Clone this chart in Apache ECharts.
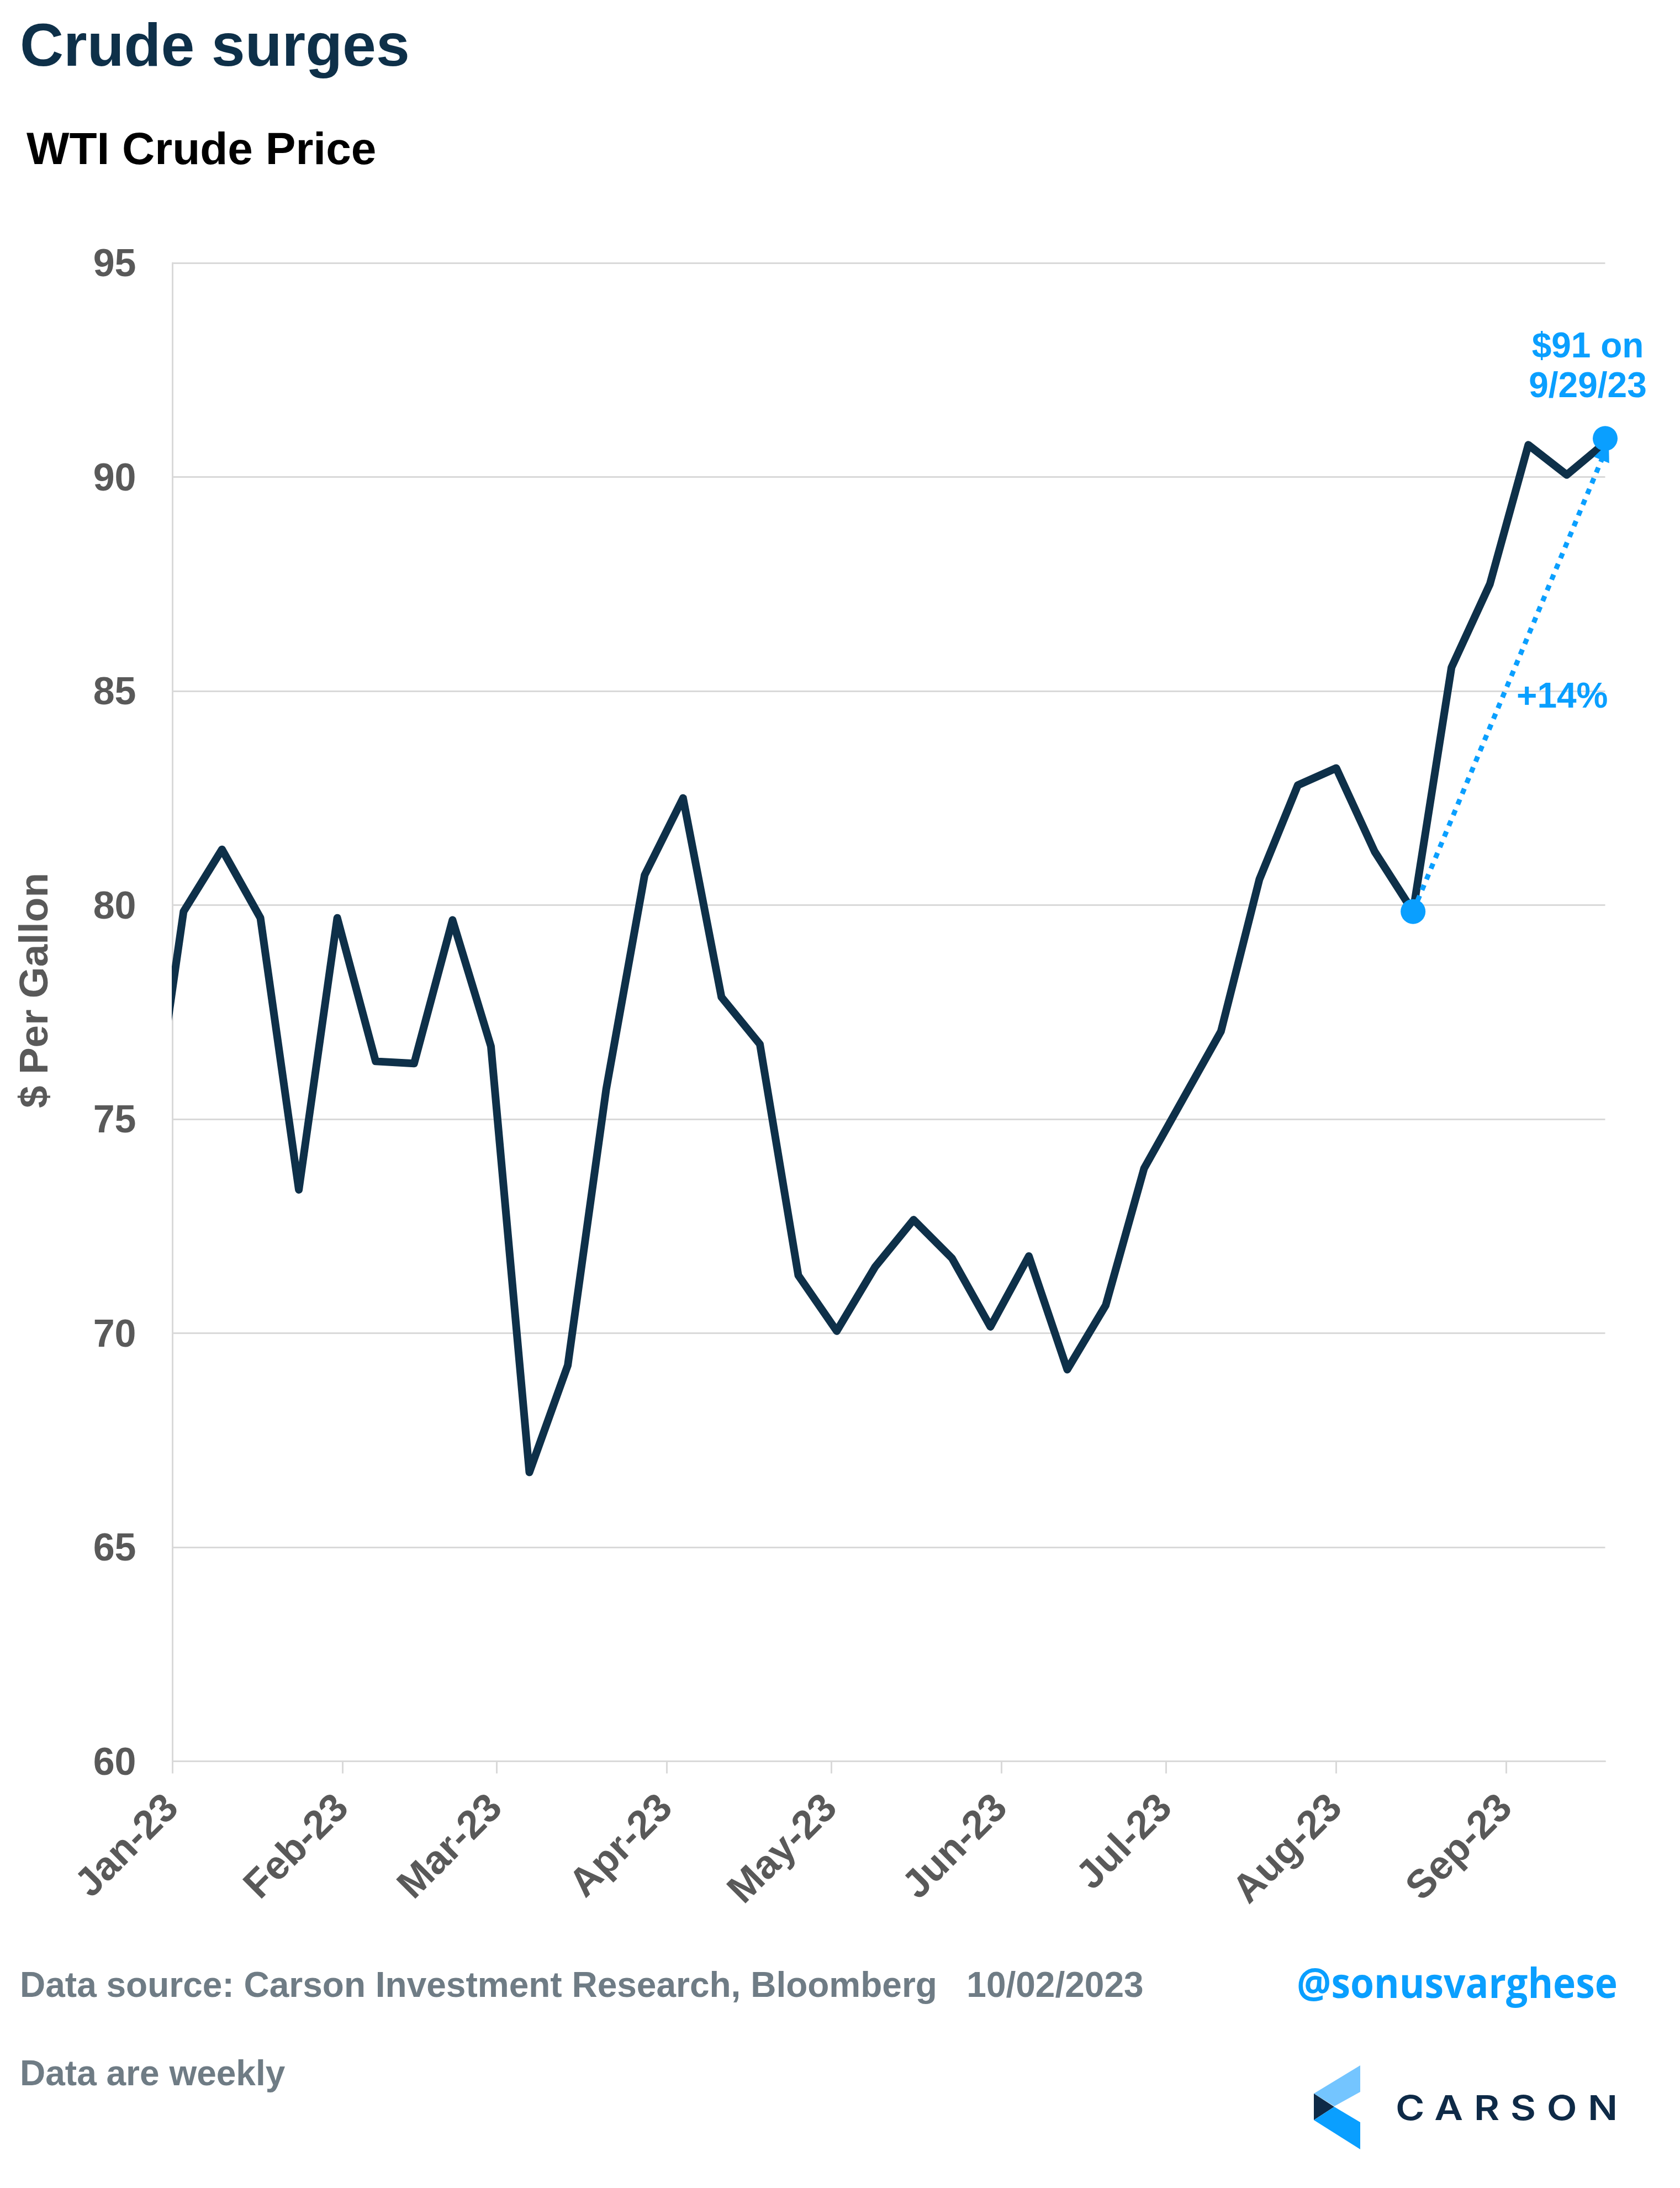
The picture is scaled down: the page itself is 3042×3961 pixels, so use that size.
<!DOCTYPE html>
<html><head><meta charset="utf-8">
<style>html,body{margin:0;padding:0;background:#fff}#c{width:3042px;height:3961px}</style>
<script src="https://cdn.jsdelivr.net/npm/echarts@6/dist/echarts.min.js"></script>
</head><body><div id="c"></div>
<script>
const weekDates = ['2022-12-27','2023-01-03','2023-01-10','2023-01-17','2023-01-24','2023-01-31','2023-02-07','2023-02-14','2023-02-21','2023-02-28','2023-03-07','2023-03-14','2023-03-21','2023-03-28','2023-04-04','2023-04-11','2023-04-18','2023-04-25','2023-05-02','2023-05-09','2023-05-16','2023-05-23','2023-05-30','2023-06-06','2023-06-13','2023-06-20','2023-06-27','2023-07-04','2023-07-11','2023-07-18','2023-07-25','2023-08-01','2023-08-08','2023-08-15','2023-08-22','2023-08-29','2023-09-05','2023-09-12','2023-09-19'];
const wtiPrice = [73.6,79.85,81.3,79.7,73.35,79.7,76.35,76.3,79.65,76.7,66.75,69.25,75.7,80.7,82.5,77.85,76.75,71.35,70.05,71.55,72.65,71.75,70.15,71.8,69.15,70.65,73.85,75.45,77.05,80.6,82.8,83.2,81.25,79.85,85.55,87.5,90.75,90.05,90.8];
const monthTicks = ['2023-01-01','2023-02-01','2023-03-01','2023-04-01','2023-05-01','2023-06-01','2023-07-01','2023-08-01','2023-09-01'];
const monthLabels = ['Jan-23','Feb-23','Mar-23','Apr-23','May-23','Jun-23','Jul-23','Aug-23','Sep-23'];
const axisStart = '2023-01-01', axisEnd = '2023-09-19';
const markerDates = ['2023-08-15','2023-09-19'];
const markerValues = [79.85,90.9];
const arrowFrom = ['2023-08-15',79.85], arrowTo = ['2023-09-19',90.6];

// the logo wordmark is letter-spaced; keep it one real text string
const _ft = CanvasRenderingContext2D.prototype.fillText;
CanvasRenderingContext2D.prototype.fillText = function(t,x,y,m){
  if(t==='CARSON'){const o=this.letterSpacing;this.letterSpacing='17px';
    const r=m===undefined?_ft.call(this,t,x,y):_ft.call(this,t,x,y,m);this.letterSpacing=o;return r;}
  return m===undefined?_ft.call(this,t,x,y):_ft.call(this,t,x,y,m);
};

const ts = d => Date.parse(d);
const tickTs = monthTicks.map(ts);
const SANS = '"Liberation Sans", Arial, sans-serif';
const NAVY='#0e3049', BLUE='#0a9fff', GRID='#d9d9d9', AXTXT='#595959', FOOT='#6f7c85';
const txt=(text,x,y,fill,size,extra={})=>({type:'text',x,y,z:20,style:Object.assign({text,fill,font:`bold ${size}px ${SANS}`,textAlign:'left',textVerticalAlign:'middle'},extra)});

const chart = echarts.init(document.getElementById('c'));
chart.setOption({
  animation:false, backgroundColor:'#fff',
  title:[
    {text:'Crude surges',left:31,top:29,textStyle:{fontFamily:SANS,fontWeight:'bold',fontSize:109.5,color:NAVY}},
    {text:'WTI Crude Price',left:43,top:228,textStyle:{fontFamily:SANS,fontWeight:'bold',fontSize:82,color:'#000'}}
  ],
  grid:{left:312.5,right:135.5,top:476,bottom:772.5,containLabel:false},
  xAxis:{type:'value',min:ts(axisStart),max:ts(axisEnd),scale:true,
    axisLine:{show:true,onZero:false,lineStyle:{color:GRID,width:3}},
    axisTick:{show:true,length:22,customValues:tickTs,lineStyle:{color:GRID,width:3}},
    splitLine:{show:false},minorTick:{show:false},
    axisLabel:{show:true,rotate:45,margin:74,customValues:tickTs,hideOverlap:false,
      formatter:v=>monthLabels[tickTs.indexOf(v)]||'',
      fontFamily:SANS,fontWeight:'bold',fontSize:72,color:AXTXT}},
  yAxis:{type:'value',min:60,max:95,interval:5,
    axisLine:{show:true,onZero:false,lineStyle:{color:GRID,width:3}},axisTick:{show:false},
    splitLine:{show:true,lineStyle:{color:GRID,width:3}},
    axisLabel:{margin:66,formatter:v=>'{a|'+v+'}',
      rich:{a:{padding:[10,0,0,0],fontFamily:SANS,fontWeight:'bold',fontSize:70,color:AXTXT}}}},
  series:[
    {name:'WTI',type:'line',data:weekDates.map((d,i)=>[ts(d),wtiPrice[i]]),showSymbol:false,symbol:'none',clip:true,
      lineStyle:{color:NAVY,width:14,join:'round',cap:'round'},z:3,
      markLine:{silent:true,animation:false,symbol:['none','triangle'],symbolSize:[30,34],label:{show:false},
        lineStyle:{color:BLUE,width:9,type:[10,11],cap:'butt',opacity:1},
        data:[[{coord:[ts(arrowFrom[0]),arrowFrom[1]]},{coord:[ts(arrowTo[0]),arrowTo[1]]}]]}},
    {name:'Markers',type:'scatter',data:markerDates.map((d,i)=>[ts(d),markerValues[i]]),symbol:'circle',symbolSize:45,clip:false,
      itemStyle:{color:BLUE,opacity:1},z:6}
  ],
  graphic:[
    {type:'rect',z:10,silent:true,shape:{x:275,y:1700,width:36,height:200},style:{fill:'#fff'}},
    {type:'text',x:66,y:1793,rotation:Math.PI/2,z:20,style:{text:'$ Per Gallon',fill:AXTXT,font:`bold 73px ${SANS}`,textAlign:'center',textVerticalAlign:'middle'}},
    txt('$91 on',2875,629,BLUE,64,{textAlign:'center'}),
    txt('9/29/23',2875,701,BLUE,64,{textAlign:'center'}),
    txt('+14%',2746,1263,BLUE,64),
    txt('Data source: Carson Investment Research, Bloomberg   10/02/2023',36,3597,FOOT,64),
    txt('Data are weekly',36,3757,FOOT,64),
    {type:'text',x:2348,y:3595,scaleX:0.915,z:20,style:{text:'@sonusvarghese',fill:BLUE,font:'bold 76px "Open Sans"',textAlign:'left',textVerticalAlign:'middle'}},
    {type:'polygon',z:20,shape:{points:[[2463,3739],[2463,3787],[2416,3813],[2379,3790]]},style:{fill:'#74c5ff'}},
    {type:'polygon',z:20,shape:{points:[[2379,3790],[2416,3814],[2379,3838]]},style:{fill:'#0e2a47'}},
    {type:'polygon',z:20,shape:{points:[[2416,3814],[2463,3842],[2463,3891],[2379,3838]]},style:{fill:BLUE}},
    {type:'text',x:2527,y:3819,scaleX:1.15,z:20,style:{text:'CARSON',fill:'#0e2a47',font:'600 62px Inter',textAlign:'left',textVerticalAlign:'middle'}}
  ]
});
</script></body></html>
